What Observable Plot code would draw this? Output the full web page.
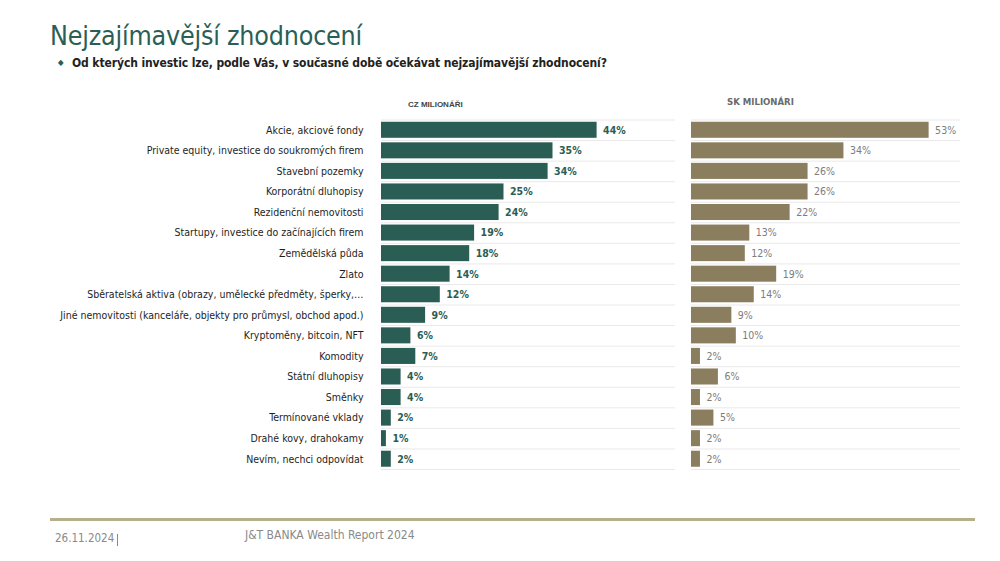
<!DOCTYPE html>
<html>
<head>
<meta charset="utf-8">
<script src="https://cdn.jsdelivr.net/npm/d3@7"></script>
<script src="https://cdn.jsdelivr.net/npm/@observablehq/plot@0.6"></script>
<style>
  html, body { margin: 0; padding: 0; background: #fff; }
  body { width: 1000px; height: 561px; position: relative; overflow: hidden;
         font-family: "DejaVu Sans Condensed", "Liberation Sans", sans-serif; }
  .abs { position: absolute; white-space: nowrap; }
  #title { left: 50px; top: 18px; font-size: 26.6px; color: #2b5e55; line-height: 36px; letter-spacing: -0.2px; }
  #subtitle { left: 72px; top: 55px; font-size: 12px; font-weight: bold; color: #222; line-height: 16px; letter-spacing: -0.1px; }
  #bullet { left: 58px; top: 57px; font-size: 8px; color: #2b5e55; line-height: 12px; }
  #hcz { left: 408px; top: 100px; font-family: "Liberation Sans", Arial, sans-serif; font-size: 8px; font-weight: bold; color: #444; line-height: 10px; }
  #hsk { left: 727px; top: 96px; font-size: 9.5px; font-weight: bold; color: #6b6b6b; line-height: 12px; }
  #cz { left: 0; top: 0; }
  #sk { left: 691px; top: 0; }
  #footline { left: 50px; top: 518px; width: 925px; height: 3px; background: #b5af8b; }
  #fdate { left: 55px; top: 531px; font-size: 11.5px; color: #8a8a8a; line-height: 14px; }
  #fbar { left: 117px; top: 534px; width: 1px; height: 12px; background: #8a8a8a; }
  #frep { left: 245px; top: 528px; font-size: 12px; color: #8a8a8a; line-height: 14px; }
  svg { overflow: visible; display: block; }
</style>
</head>
<body>
<div id="title" class="abs">Nejzajímavější zhodnocení</div>
<div id="bullet" class="abs">◆</div>
<div id="subtitle" class="abs">Od kterých investic lze, podle Vás, v současné době očekávat nejzajímavější zhodnocení?</div>
<div id="hcz" class="abs">CZ MILIONÁŘI</div>
<div id="hsk" class="abs">SK MILIONÁRI</div>
<div id="cz" class="abs"></div>
<div id="sk" class="abs"></div>
<div id="footline" class="abs"></div>
<div id="fdate" class="abs">26.11.2024</div>
<div id="fbar" class="abs"></div>
<div id="frep" class="abs">J&amp;T BANKA Wealth Report 2024</div>
<script>
const categories = [
  "Akcie, akciové fondy",
  "Private equity, investice do soukromých firem",
  "Stavební pozemky",
  "Korporátní dluhopisy",
  "Rezidenční nemovitosti",
  "Startupy, investice do začínajících firem",
  "Zemědělská půda",
  "Zlato",
  "Sběratelská aktiva (obrazy, umělecké předměty, šperky,…",
  "Jiné nemovitosti (kanceláře, objekty pro průmysl, obchod apod.)",
  "Kryptoměny, bitcoin, NFT",
  "Komodity",
  "Státní dluhopisy",
  "Směnky",
  "Termínované vklady",
  "Drahé kovy, drahokamy",
  "Nevím, nechci odpovídat"
];
const czValues = [44, 35, 34, 25, 24, 19, 18, 14, 12, 9, 6, 7, 4, 4, 2, 1, 2];
const skValues = [53, 34, 26, 26, 22, 13, 12, 19, 14, 9, 10, 2, 6, 2, 5, 2, 2];

const czColor = "#2a5e54";
const skColor = "#8b7e5e";
const sepColor = "#e9e9e9";
const labelFont = "'DejaVu Sans Condensed', 'Liberation Sans', sans-serif";

const H = 480, MT = 119.5, MB = 11;
const step = (H - MT - MB) / categories.length;

function panel(values, opts) {
  const data = categories.map((c, i) => ({c, v: values[i]}));
  return Plot.plot({
    width: opts.width,
    height: H,
    marginTop: MT,
    marginBottom: MB,
    marginLeft: opts.marginLeft,
    marginRight: 0,
    style: {fontFamily: labelFont, fontSize: "10.5px", color: "#1e1e1e", background: "transparent", overflow: "visible"},
    x: {domain: [0, 60], axis: null},
    y: {domain: categories, paddingInner: 0.22, paddingOuter: 0.11, round: false, label: null, tickSize: 0, tickPadding: 18, axis: opts.axis},
    marks: [
      Plot.ruleY([categories[0]], {y: d => d, dy: -step / 2, stroke: sepColor, strokeWidth: 1}),
      Plot.ruleY(categories, {y: d => d, dy: step / 2, stroke: sepColor, strokeWidth: 1}),
      Plot.barX(data, {x: "v", y: "c", fill: opts.color}),
      Plot.text(data, {
        x: "v", y: "c", text: d => d.v + "%", textAnchor: "start", dx: 6,
        fill: opts.textColor, fontWeight: opts.bold ? "bold" : "normal", fontSize: 10.5
      })
    ]
  });
}

document.getElementById("cz").appendChild(panel(czValues, {
  width: 675, marginLeft: 381, color: czColor, textColor: "#2a5e54", bold: true, axis: "left"
}));
document.getElementById("sk").appendChild(panel(skValues, {
  width: 269, marginLeft: 0, color: skColor, textColor: "#7c7c7c", bold: false, axis: null
}));
</script>
</body>
</html>
